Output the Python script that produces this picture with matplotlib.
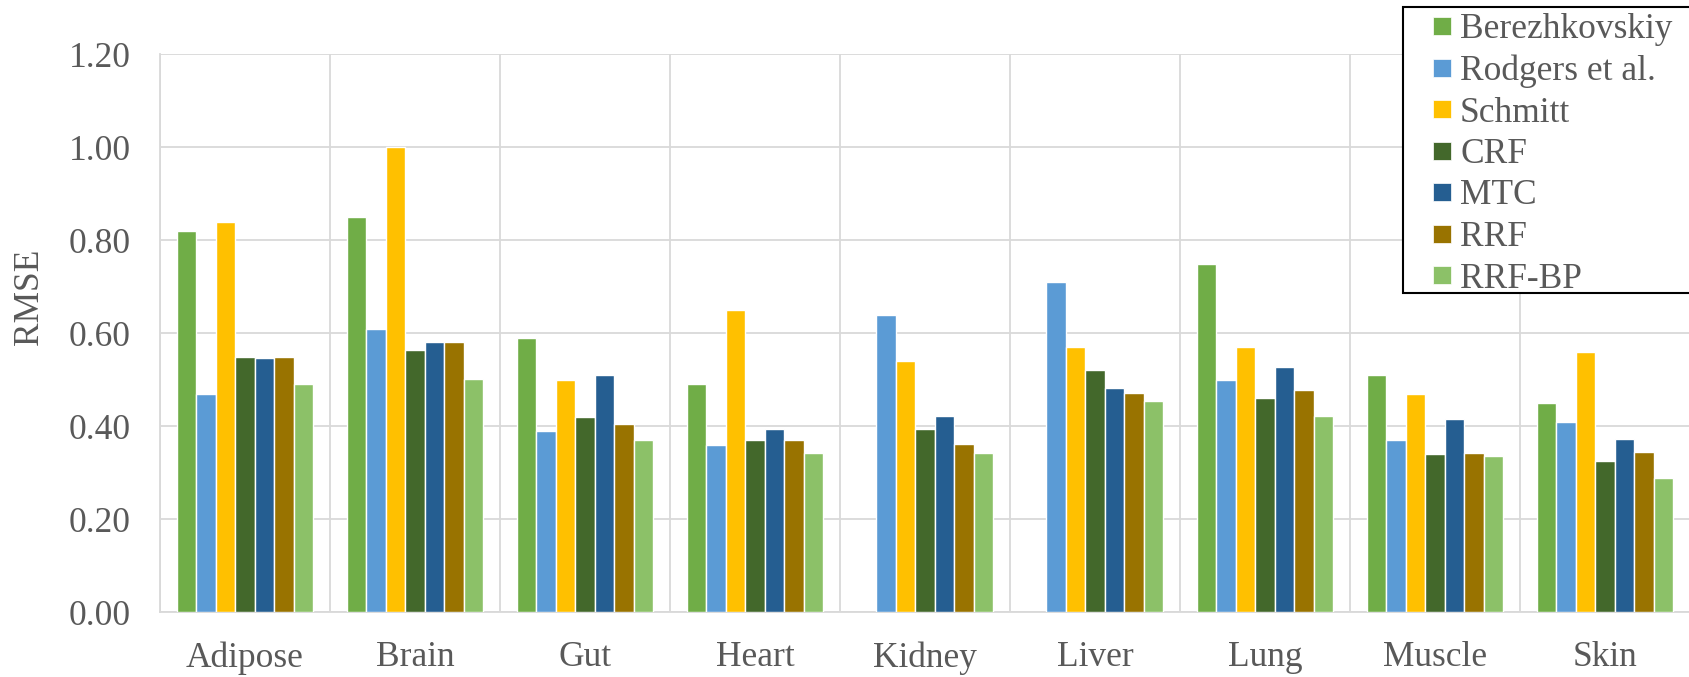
import numpy as np
import matplotlib.pyplot as plt
from matplotlib.lines import Line2D
from matplotlib.patches import Rectangle

categories = ['Adipose', 'Brain', 'Gut', 'Heart', 'Kidney', 'Liver', 'Lung', 'Muscle', 'Skin']
methods = ['Berezhkovskiy', 'Rodgers et al.', 'Schmitt', 'CRF', 'MTC', 'RRF', 'RRF-BP']

berezhkovskiy = [0.82, 0.85, 0.59, 0.49, np.nan, np.nan, 0.75, 0.51, 0.45]
rodgers = [0.47, 0.61, 0.39, 0.36, 0.64, 0.71, 0.50, 0.37, 0.41]
schmitt = [0.84, 1.00, 0.50, 0.65, 0.54, 0.57, 0.57, 0.47, 0.56]
crf = [0.55, 0.565, 0.42, 0.37, 0.395, 0.52, 0.46, 0.34, 0.325]
mtc = [0.547, 0.582, 0.51, 0.395, 0.423, 0.482, 0.528, 0.415, 0.372]
rrf = [0.55, 0.582, 0.405, 0.37, 0.362, 0.472, 0.477, 0.342, 0.345]
rrf_bp = [0.49, 0.502, 0.37, 0.342, 0.342, 0.455, 0.423, 0.337, 0.288]

colors = ['#70AD47', '#5B9BD5', '#FFC000', '#43682B', '#255E91', '#997300', '#8CC168']

series = [berezhkovskiy, rodgers, schmitt, crf, mtc, rrf, rrf_bp]

plt.rcParams['font.family'] = ['Liberation Serif', 'DejaVu Serif']
text_gray = '#595959'
grid_gray = '#D9D9D9'
fs = 25.5

fig = plt.figure(figsize=(16.9, 6.77), dpi=100)
ax = fig.add_axes([0.0947, 0.0956, 0.9053, 0.8242])

x = np.arange(len(categories))
group = 0.80
width = group / len(series)
for i, (vals, col) in enumerate(zip(series, colors)):
    offs = -group / 2 + width * (i + 0.5)
    ax.bar(x + offs, vals, width, color=col, edgecolor='white', linewidth=1.0, zorder=3)

ax.set_xlim(-0.5, len(categories) - 0.5)
ax.set_ylim(0, 1.2)
yt = np.arange(0, 1.21, 0.2)
ax.set_yticks(yt)
ax.set_yticklabels([f'{v:.2f}' for v in yt])
ax.set_xticks(x)
ax.set_xticklabels(categories)

# category separators + horizontal grid, excel style
ax.set_xticks(np.arange(-0.5, len(categories), 1.0), minor=True)
ax.grid(axis='y', which='major', color=grid_gray, linewidth=1.3, zorder=0)
ax.grid(axis='x', which='minor', color=grid_gray, linewidth=1.3, zorder=0)
ax.tick_params(axis='both', which='both', length=0, labelsize=fs, colors=text_gray)
ax.tick_params(axis='y', pad=21)
ax.tick_params(axis='x', pad=21)

for s in ['top', 'right']:
    ax.spines[s].set_visible(False)
for s in ['left', 'bottom']:
    ax.spines[s].set_color(grid_gray)
    ax.spines[s].set_linewidth(1.3)

ax.set_ylabel('RMSE', fontsize=fs, color=text_gray)
ax.yaxis.set_label_coords(-0.0745, 0.565)

# legend box runs off the right edge in the original
fig.patches.append(Rectangle((1403 / 1690, 1 - 293 / 677), 0.3, (293 - 7) / 677,
                             transform=fig.transFigure, facecolor='white',
                             edgecolor='black', linewidth=1.5, zorder=5))
handles = [Line2D([], [], linestyle='none', marker='s', markersize=13.5,
                  markerfacecolor=c, markeredgecolor='white', markeredgewidth=0.5)
           for c in colors]
leg = fig.legend(handles, methods, loc='upper left', bbox_to_anchor=(1414 / 1690, 1 - 13 / 677),
                 fontsize=fs, frameon=False, handlelength=1.6, handletextpad=-0.3,
                 labelspacing=0.24, borderpad=0, borderaxespad=0)
leg.set_zorder(6)
for t in leg.get_texts():
    t.set_color(text_gray)

fig.savefig('out.png', dpi=100)
